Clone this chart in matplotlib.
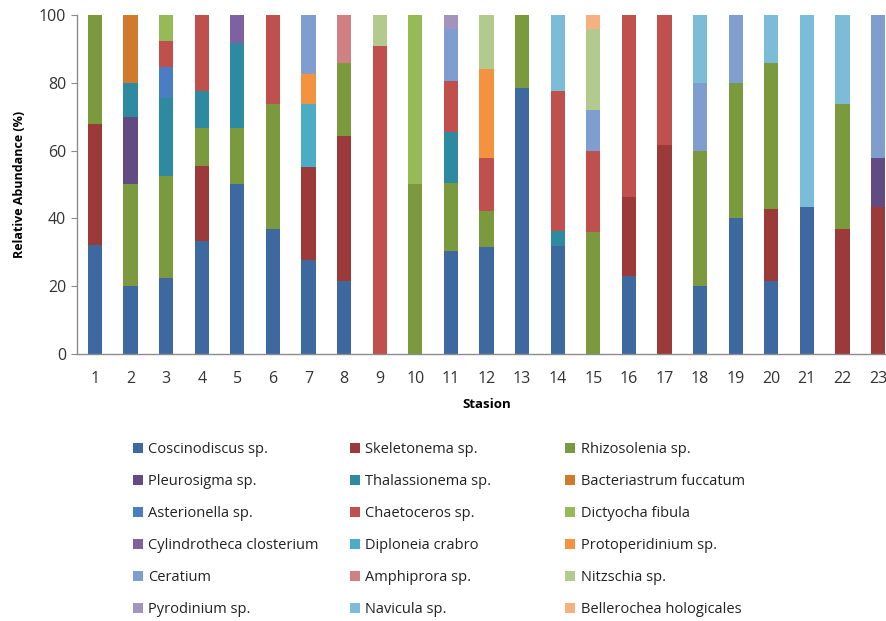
import numpy as np
import matplotlib.pyplot as plt
from matplotlib.patches import Patch

stations = [str(i) for i in range(1, 24)]

species = [
    'Coscinodiscus sp.', 'Skeletonema sp.', 'Rhizosolenia sp.',
    'Pleurosigma sp.', 'Thalassionema sp.', 'Bacteriastrum fuccatum',
    'Asterionella sp.', 'Chaetoceros sp.', 'Dictyocha fibula',
    'Cylindrotheca closterium', 'Diploneia crabro', 'Protoperidinium sp.',
    'Ceratium', 'Amphiprora sp.', 'Nitzschia sp.',
    'Pyrodinium sp.', 'Navicula sp.', 'Bellerochea hologicales',
]

colors = [
    '#3E69A0', '#9C3A3A', '#7A9A3D',
    '#624B82', '#2E8A9F', '#D07A2E',
    '#4A7DC3', '#C0504D', '#97BA58',
    '#7E62A0', '#4BACC6', '#F3923F',
    '#7F9ECF', '#CF8080', '#B2CA8D',
    '#A194BD', '#7DBCD6', '#F6B183',
]

# relative abundance (%), stations 1-12 on the first line, 13-23 on the second
coscinodiscus = [32.2, 20, 22.3, 33.3, 50, 36.8, 27.7, 21.4, 0, 0, 30.4, 31.6,
                 78.6, 31.8, 0, 23.1, 0, 20, 40, 21.4, 43.3, 0, 0]
skeletonema = [35.6, 0, 0, 22.2, 0, 0, 27.6, 42.9, 0, 0, 0, 0,
               0, 0, 0, 23.1, 61.5, 0, 0, 21.4, 0, 36.8, 43.3]
rhizosolenia = [32.2, 30, 30.3, 11.1, 16.7, 36.9, 0, 21.4, 0, 50, 19.9, 10.5,
                21.4, 0, 36, 0, 0, 40, 40, 42.9, 0, 36.9, 0]
pleurosigma = [0, 20, 0, 0, 0, 0, 0, 0, 0, 0, 0, 0,
               0, 0, 0, 0, 0, 0, 0, 0, 0, 0, 14.6]
thalassionema = [0, 10, 22.8, 11.1, 25, 0, 0, 0, 0, 0, 15.1, 0,
                 0, 4.5, 0, 0, 0, 0, 0, 0, 0, 0, 0]
bacteriastrum = [0, 20, 0, 0, 0, 0, 0, 0, 0, 0, 0, 0,
                 0, 0, 0, 0, 0, 0, 0, 0, 0, 0, 0]
asterionella = [0, 0, 9.3, 0, 0, 0, 0, 0, 0, 0, 0, 0,
                0, 0, 0, 0, 0, 0, 0, 0, 0, 0, 0]
chaetoceros = [0, 0, 7.7, 22.3, 0, 26.3, 0, 0, 90.9, 0, 15.2, 15.8,
               0, 41.2, 24, 53.8, 38.5, 0, 0, 0, 0, 0, 0]
dictyocha = [0, 0, 7.6, 0, 0, 0, 0, 0, 0, 50, 0, 0,
             0, 0, 0, 0, 0, 0, 0, 0, 0, 0, 0]
cylindrotheca = [0, 0, 0, 0, 8.3, 0, 0, 0, 0, 0, 0, 0,
                 0, 0, 0, 0, 0, 0, 0, 0, 0, 0, 0]
diploneia = [0, 0, 0, 0, 0, 0, 18.4, 0, 0, 0, 0, 0,
             0, 0, 0, 0, 0, 0, 0, 0, 0, 0, 0]
protoperidinium = [0, 0, 0, 0, 0, 0, 8.9, 0, 0, 0, 0, 26.3,
                   0, 0, 0, 0, 0, 0, 0, 0, 0, 0, 0]
ceratium = [0, 0, 0, 0, 0, 0, 17.4, 0, 0, 0, 15.4, 0,
            0, 0, 12, 0, 0, 20, 20, 0, 0, 0, 42.1]
amphiprora = [0, 0, 0, 0, 0, 0, 0, 14.3, 0, 0, 0, 0,
              0, 0, 0, 0, 0, 0, 0, 0, 0, 0, 0]
nitzschia = [0, 0, 0, 0, 0, 0, 0, 0, 9.1, 0, 0, 15.8,
             0, 0, 24, 0, 0, 0, 0, 0, 0, 0, 0]
pyrodinium = [0, 0, 0, 0, 0, 0, 0, 0, 0, 0, 4, 0,
              0, 0, 0, 0, 0, 0, 0, 0, 0, 0, 0]
navicula = [0, 0, 0, 0, 0, 0, 0, 0, 0, 0, 0, 0,
            0, 22.5, 0, 0, 0, 20, 0, 14.3, 56.7, 26.3, 0]
bellerochea = [0, 0, 0, 0, 0, 0, 0, 0, 0, 0, 0, 0,
               0, 0, 4, 0, 0, 0, 0, 0, 0, 0, 0]

series = [coscinodiscus, skeletonema, rhizosolenia, pleurosigma, thalassionema,
          bacteriastrum, asterionella, chaetoceros, dictyocha, cylindrotheca,
          diploneia, protoperidinium, ceratium, amphiprora, nitzschia,
          pyrodinium, navicula, bellerochea]

plt.rcParams['font.family'] = ['Open Sans', 'DejaVu Sans']

fig = plt.figure(figsize=(8.86, 6.21), dpi=100)
ax = fig.add_axes([0.0871, 0.43, 0.924, 0.5459])

x = np.arange(1, len(stations) + 1)
bottom = np.zeros(len(stations))
for vals, c in zip(series, colors):
    vals = np.array(vals, dtype=float)
    ax.bar(x, vals, 0.4, bottom=bottom, color=c, linewidth=0)
    bottom += vals

ax.set_xlim(0.5, 23.5)
ax.set_ylim(0, 100)
ax.set_yticks(np.arange(0, 101, 20))
ax.set_xticks(x)
ax.set_xticklabels(stations)
for s in ['top', 'right']:
    ax.spines[s].set_visible(False)
for s in ['left', 'bottom']:
    ax.spines[s].set_color('#8c8c8c')
    ax.spines[s].set_linewidth(1)
ax.tick_params(axis='y', length=4, color='#8c8c8c', labelsize=11.5,
               labelcolor='#333333', pad=4)
ax.tick_params(axis='x', length=0, labelsize=11.5, labelcolor='#333333', pad=12)

ax.set_ylabel('Relative Abundance (%)', fontsize=9, fontweight='bold', labelpad=9)
ax.set_xlabel('Stasion', fontsize=9.5, fontweight='bold', labelpad=8)

# legend laid out row by row: one legend per column so the columns sit evenly
handles = [Patch(facecolor=c, label=s) for s, c in zip(species, colors)]
ncol = 3
col_x = [0.150, 0.395, 0.638]
for j in range(ncol):
    idx = list(range(j, len(species), ncol))
    leg = fig.legend([handles[i] for i in idx], [species[i] for i in idx],
                     loc='upper left', bbox_to_anchor=(col_x[j], 0.288),
                     frameon=False, fontsize=10.5, handlelength=0.7,
                     handleheight=0.7, handletextpad=0.35, labelspacing=1.17,
                     borderpad=0, borderaxespad=0, labelcolor='#222222')

fig.savefig('out.png', dpi=100)
